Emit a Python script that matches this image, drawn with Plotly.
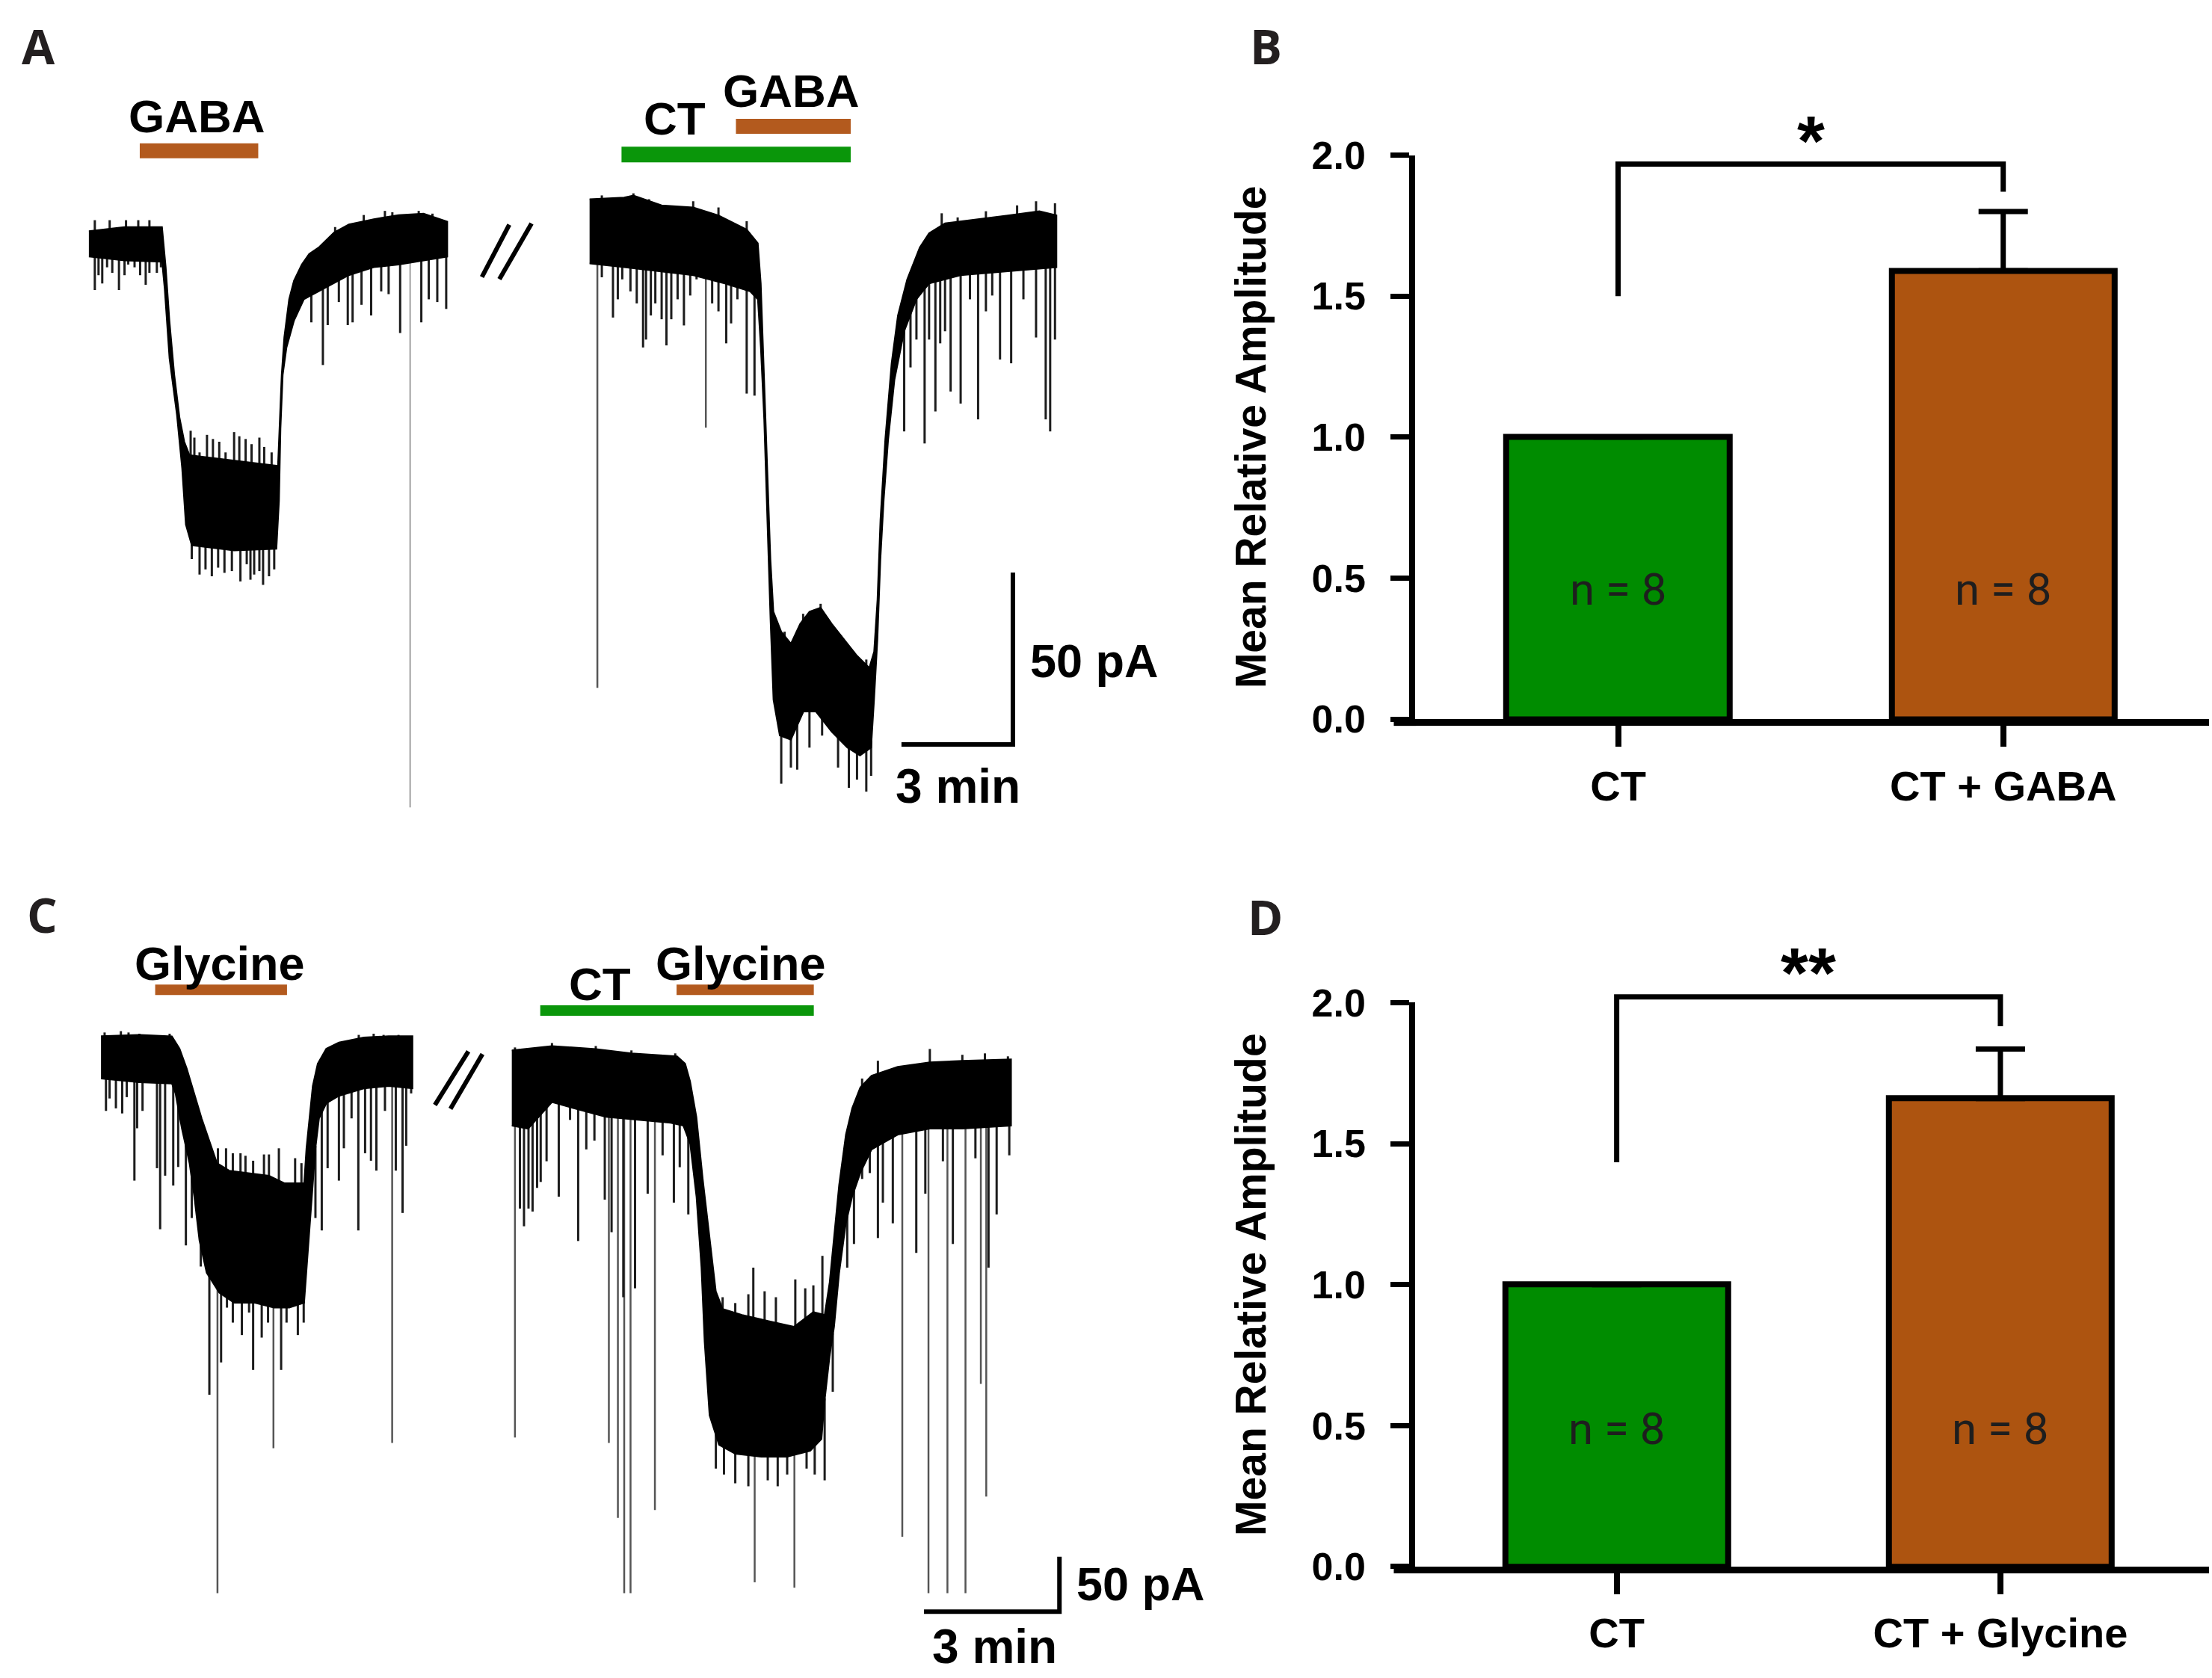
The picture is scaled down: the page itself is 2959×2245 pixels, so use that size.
import numpy as np
import plotly.graph_objects as go

# ======================= DATA =======================
# Panel A : holding current (pA, relative to baseline) vs time (min)
# trace 1 (GABA alone): solid band envelopes
a1_up_t = [0.0, 0.96, 1.97, 2.07, 2.17, 2.30, 2.44, 2.57, 2.71, 3.91, 5.09, 5.19, 5.26, 5.39, 5.52, 5.73, 5.93, 6.20, 6.60, 7.00, 7.67, 8.34, 9.01, 9.65]
a1_up_i = [3.3, 4.5, 4.5, -7.2, -22.8, -38.4, -50.8, -57.9, -61.8, -63.3, -64.9, -38.4, -27.5, -16.5, -11.1, -6.4, -3.3, -1.3, 2.9, 5.3, 6.8, 8.0, 8.4, 6.1]
a1_lo_t = [0.0, 0.96, 1.97, 2.04, 2.17, 2.37, 2.51, 2.61, 2.77, 3.91, 5.05, 5.12, 5.16, 5.22, 5.32, 5.52, 5.79, 6.33, 7.00, 7.67, 8.34, 9.65]
a1_lo_i = [-4.1, -5.2, -5.6, -13.4, -33.7, -50.1, -65.6, -82.0, -88.0, -89.5, -89.0, -75.0, -54.0, -38.4, -30.6, -22.8, -16.5, -13.4, -9.5, -7.2, -6.4, -4.1]
# noise excursions (tips)
a1_hl_t = [0.16, 0.26, 0.36, 0.49, 0.63, 0.81, 0.96, 1.06, 1.23, 1.38, 1.53, 1.63, 1.83, 1.94, 2.77, 2.98, 3.14, 3.31, 3.48, 3.65, 3.85, 4.08,
           4.25, 4.35, 4.45, 4.59, 4.69, 4.85, 4.99, 5.99, 6.30, 6.43, 6.73, 6.97, 7.10, 7.34, 7.60, 7.87, 8.07, 8.38, 8.95, 9.15, 9.38, 9.62]
a1_hl_i = [-13.8, -9.5, -11.9, -7.2, -8.8, -13.8, -9.5, -6.4, -7.2, -9.5, -12.3, -8.8, -8.8, -7.2, -92.0, -96.5, -95.0, -97.0, -94.5, -96.0,
           -95.5, -98.5, -93.5, -98.0, -96.5, -95.5, -99.5, -97.0, -95.0, -23.2, -35.6, -24.0, -17.3, -24.0, -23.2, -18.1, -21.2, -14.2, -15.0,
           -26.3, -23.2, -16.5, -17.3, -19.3]
a1_hu_t = [0.16, 0.56, 1.00, 1.33, 1.63, 2.74, 2.84, 2.98, 3.18, 3.34, 3.51, 3.68, 3.91, 4.05, 4.22, 4.38, 4.59, 4.72, 4.92, 6.63, 7.40, 7.97, 8.17, 8.88, 9.25]
a1_hu_i = [6.5, 6.5, 6.5, 6.5, 6.5, -54.7, -56.7, -61.0, -55.9, -57.1, -57.9, -61.0, -55.1, -56.3, -57.1, -58.6, -56.7, -59.4, -61.0, 4.5, 8.0, 9.2, 8.8, 9.2, 8.4]
a1_sp_t = [8.65]
a1_sp_i = [-164.2]

# trace 2 (CT then CT + GABA)
a2_up_t = [13.48, 14.41, 14.66, 15.42, 16.27, 16.95, 17.71, 18.01, 18.09, 18.18, 18.26, 18.35, 18.43, 18.64, 18.90, 19.15, 19.40, 19.70,
           20.00, 20.34, 20.68, 21.01, 21.14, 21.23, 21.31, 21.44, 21.61, 21.78, 22.03, 22.37, 22.62, 23.05, 23.89, 24.74, 25.59, 26.05]
a2_up_i = [12.6, 13.1, 13.7, 10.8, 10.2, 7.9, 3.8, -0.2, -11.9, -39.8, -63.1, -92.1, -107.3, -113.1, -116.6, -110.8, -107.3, -106.1,
           -110.8, -115.4, -120.1, -123.6, -118.9, -103.8, -80.5, -57.2, -35.1, -21.2, -10.7, -1.4, 2.7, 5.6, 6.7, 7.9, 9.1, 7.9]
a2_lo_t = [13.48, 14.41, 15.42, 16.27, 17.12, 17.80, 18.01, 18.09, 18.18, 18.26, 18.35, 18.43, 18.60, 18.90, 19.24, 19.57, 20.00, 20.42,
           20.76, 21.06, 21.14, 21.23, 21.31, 21.40, 21.52, 21.69, 21.95, 22.28, 22.62, 23.47, 24.74, 26.05]
a2_lo_i = [-6.1, -7.2, -8.4, -9.5, -11.9, -14.2, -16.5, -30.5, -51.4, -80.5, -109.6, -132.9, -143.3, -144.5, -136.3, -136.3, -142.2,
           -146.8, -149.1, -146.8, -132.9, -115.4, -92.1, -74.7, -57.2, -39.8, -25.8, -16.5, -11.9, -9.5, -8.4, -7.2]
a2_hl_t = [13.81, 14.11, 14.24, 14.36, 14.58, 14.75, 14.92, 15.00, 15.13, 15.25, 15.42, 15.55, 15.68, 15.85, 16.02, 16.19, 16.36, 16.78,
           16.95, 17.16, 17.29, 17.46, 17.71, 17.92, 18.64, 18.90, 19.07, 19.40, 19.74, 20.17, 20.46, 20.68, 20.93, 21.06, 21.95, 22.12,
           22.28, 22.50, 22.62, 22.79, 22.92, 23.05, 23.20, 23.47, 23.72, 23.94, 24.15, 24.32, 24.53, 24.83, 25.16, 25.50, 25.76, 25.88, 26.01]
a2_hl_i = [-10.1, -21.8, -16.5, -10.7, -14.2, -17.7, -30.5, -28.2, -21.2, -17.7, -22.3, -29.9, -22.3, -16.5, -24.1, -15.4, -10.7, -17.7,
           -20.0, -29.3, -23.5, -16.5, -43.9, -44.5, -157.3, -152.6, -153.2, -146.8, -143.3, -152.6, -158.5, -156.1, -159.6, -155.0, -54.9,
           -36.3, -28.2, -58.4, -28.2, -49.1, -29.3, -25.8, -43.3, -46.8, -16.5, -51.4, -20.0, -15.4, -34.0, -35.1, -16.5, -27.6, -51.4,
           -54.9, -28.2]
a2_hu_t = [13.81, 14.66, 15.08, 16.27, 16.95, 17.71, 18.73, 19.23, 19.57, 19.70, 20.25, 20.59, 20.93, 22.96, 23.39, 24.15, 24.99, 25.50, 26.01]
a2_hu_i = [13.7, 14.3, 12.6, 12.0, 10.2, 6.2, -113.1, -107.9, -106.7, -105.0, -114.3, -118.9, -121.2, 8.5, 7.3, 9.1, 10.8, 12.0, 11.4]
a2_sp_t = [13.69, 16.61]
a2_sp_i = [-129.4, -53.8]

# drug application periods (min)
a_gaba1 = [1.37, 4.56]
a_ct2 = [14.34, 20.51]
a_gaba2 = [17.42, 20.51]

# Panel C : Glycine
c1_up_t = [0.05, 0.90, 1.62, 1.79, 1.95, 2.12, 2.28, 2.45, 2.62, 2.89, 3.33, 3.77, 4.11, 4.55, 4.60, 4.66, 4.74, 4.85, 5.04, 5.32, 5.87, 6.42, 6.95]
c1_up_i = [13.0, 14.2, 13.0, 1.7, -16.4, -39.0, -61.7, -82.1, -102.4, -109.2, -111.5, -113.8, -120.6, -120.6, -88.9, -66.2, -32.3, -11.9,
           1.7, 7.4, 11.9, 13.0, 13.0]
c1_lo_t = [0.05, 0.90, 1.62, 1.70, 1.84, 2.01, 2.12, 2.23, 2.39, 2.67, 3.00, 3.44, 3.88, 4.22, 4.55, 4.63, 4.68, 4.74, 4.80, 4.88, 5.04,
           5.32, 5.87, 6.42, 6.95]
c1_lo_i = [-25.5, -28.9, -30.0, -39.0, -70.7, -102.4, -134.1, -172.6, -202.1, -220.2, -229.3, -229.3, -233.8, -233.8, -229.3, -190.8,
           -156.8, -122.8, -88.9, -61.7, -48.1, -41.3, -34.5, -32.3, -34.5]
c1_hl_t = [0.16, 0.24, 0.38, 0.52, 0.62, 0.79, 0.85, 0.97, 1.29, 1.36, 1.47, 1.65, 1.76, 1.93, 2.06, 2.26, 2.45, 2.71, 2.84, 2.97, 3.17,
           3.33, 3.42, 3.61, 3.75, 4.04, 4.16, 4.41, 4.54, 4.80, 4.94, 5.07, 5.32, 5.43, 5.60, 5.75, 5.90, 6.03, 6.15, 6.34, 6.58, 6.73, 6.81, 6.92]
c1_hl_i = [-54.9, -43.6, -52.6, -57.2, -42.4, -118.3, -70.7, -54.9, -107.0, -162.5, -113.8, -122.8, -105.9, -177.2, -152.3, -196.4,
           -313.0, -283.6, -233.8, -247.4, -258.7, -238.3, -290.4, -261.0, -247.4, -290.4, -247.4, -258.7, -247.4, -152.3, -163.6, -107.0,
           -118.3, -88.9, -61.7, -163.6, -93.4, -100.2, -109.2, -54.9, -109.2, -147.7, -86.6, -39.0]
c1_hu_t = [0.13, 0.49, 0.66, 0.90, 1.57, 2.64, 2.82, 2.97, 3.14, 3.25, 3.42, 3.66, 3.77, 3.99, 4.35, 4.49, 5.76, 6.09, 6.31, 6.64]
c1_hu_i = [16.4, 17.6, 16.4, 15.3, 15.3, -88.9, -88.9, -93.4, -93.4, -95.7, -100.2, -94.5, -94.5, -88.9, -97.9, -102.4, 14.2, 15.3, 14.2, 14.2]
c1_sp_t = [2.63, 3.87, 6.50]
c1_sp_i = [-493.3, -361.6, -356.8]

c2_up_t = [9.15, 10.04, 11.01, 11.80, 12.81, 12.99, 13.10, 13.24, 13.38, 13.53, 13.67, 13.82, 14.25, 14.82, 15.40, 15.83, 16.08, 16.19,
           16.29, 16.40, 16.55, 16.69, 16.87, 17.12, 17.70, 18.41, 19.13, 20.21]
c2_up_i = [0.1, 4.1, 1.4, -2.6, -5.3, -12.0, -28.1, -60.4, -116.8, -170.5, -218.9, -235.0, -240.4, -245.8, -251.1, -237.7, -240.4,
           -210.8, -170.5, -122.2, -76.5, -52.3, -33.5, -22.8, -14.7, -10.7, -9.3, -8.0]
c2_lo_t = [9.15, 9.51, 10.04, 10.51, 11.23, 11.95, 12.67, 12.95, 13.10, 13.24, 13.35, 13.42, 13.53, 13.74, 14.10, 14.68, 15.25, 15.76,
           16.01, 16.08, 16.19, 16.29, 16.40, 16.55, 16.69, 16.87, 17.12, 17.70, 18.41, 19.13, 20.21]
c2_lo_i = [-68.4, -71.1, -46.9, -52.3, -60.4, -63.1, -65.7, -68.4, -84.6, -132.9, -197.4, -264.6, -331.7, -358.6, -366.7, -369.4, -369.4,
           -364.0, -353.2, -318.3, -278.0, -251.1, -202.8, -157.1, -132.9, -111.4, -89.9, -76.5, -71.1, -71.1, -68.4]
c2_hl_t = [9.33, 9.42, 9.52, 9.61, 9.71, 9.79, 9.92, 10.19, 10.44, 10.62, 10.80, 10.98, 11.21, 11.36, 11.62, 11.88, 12.16, 12.49, 12.74,
           12.87, 13.06, 13.67, 13.85, 14.10, 14.39, 14.82, 15.04, 15.25, 15.68, 15.86, 16.08, 16.26, 16.58, 16.73, 16.91, 17.08, 17.26,
           17.37, 17.59, 18.11, 18.31, 18.70, 18.92, 19.42, 19.71, 19.89, 20.17]
c2_hl_i = [-143.7, -159.8, -143.7, -146.4, -124.9, -119.5, -100.7, -132.9, -63.1, -173.2, -89.9, -81.9, -135.6, -165.2, -224.3, -216.2,
           -130.2, -95.3, -138.3, -106.1, -149.0, -380.1, -385.5, -393.5, -396.2, -390.8, -396.2, -385.5, -380.1, -385.5, -390.8, -310.3,
           -197.4, -175.9, -116.8, -111.4, -170.5, -138.3, -157.1, -184.0, -130.2, -100.7, -175.9, -98.0, -197.4, -149.0, -95.3]
c2_hu_t = [9.22, 10.04, 11.01, 11.80, 12.77, 13.82, 14.10, 14.39, 14.50, 14.75, 15.00, 15.43, 15.65, 15.83, 16.03, 16.91, 17.26, 18.41,
           19.13, 19.63, 20.14]
c2_hu_i = [2.8, 6.8, 4.1, 0.1, -2.6, -224.3, -229.6, -221.6, -197.4, -218.9, -224.3, -208.1, -216.2, -213.5, -186.7, -25.5, -9.3, 1.4,
           -3.9, -2.6, -5.3]
c2_sp_t = [9.22, 11.30, 11.50, 11.64, 11.78, 12.32, 14.53, 15.41, 17.80, 18.38, 18.80, 19.20, 19.54, 19.66]
c2_sp_i = [-351.9, -356.8, -425.0, -493.3, -493.3, -417.7, -483.5, -488.4, -442.1, -493.3, -493.3, -493.3, -303.1, -405.5]

c_gly1 = [1.25, 4.17]
c_ct2 = [9.78, 15.84]
c_gly2 = [12.80, 15.84]

# scale bars
sb_time = 3      # min
sb_curr = 50     # pA

# Panels B and D : mean relative amplitude
grp_B = ["CT", "CT + GABA"]
mean_B = [1.0, 1.59]
sem_B = [0.0, 0.21]
n_B = [8, 8]
brk_B = [1.50, 1.968, 1.87]   # left foot, top, right foot
sig_B = "*"

grp_D = ["CT", "CT + Glycine"]
mean_D = [1.0, 1.66]
sem_D = [0.0, 0.175]
n_D = [8, 8]
brk_D = [1.434, 2.02, 1.916]
sig_D = "**"

y_ticks = [0.0, 0.5, 1.0, 1.5, 2.0]

# ======================= LAYOUT HELPERS =======================
W, H = 2959, 2245
RW, RH = 1568.0, 1190.0


def PX(d):
    return d / RW


def PY(d):
    return 1.0 - d / RH


def LW(d):
    return d * W / RW


FONT = "Liberation Sans, Arial, Helvetica, sans-serif"
LETTER = "Open Sans, Liberation Sans, sans-serif"
NFONT = "Roboto, Liberation Sans, sans-serif"
GREEN = "#008C00"
BROWN = "#AD5410"
APP_GREEN = "#0A960A"
APP_BROWN = "#B35A1E"
INK = "#231F20"

A_T0, A_XS, A_I0, A_YS = 63.0, 26.33, 172.0, 2.44
C_T0, C_XS, C_I0, C_YS = 70.0, 32.0, 745.0, 0.78
A_DOM = (0.0, 860.0, 0.0, 590.0)
C_DOM = (0.0, 860.0, 600.0, 1190.0)


def tA(d):
    return (d - A_T0) / A_XS


def iA(d):
    return (A_I0 - d) / A_YS


def tC(d):
    return (d - C_T0) / C_XS


def iC(d):
    return (C_I0 - d) / C_YS


fig = go.Figure()


def add_band(ut, ui, lt, li, xa, ya):
    x = list(ut) + list(lt)[::-1]
    y = list(ui) + list(li)[::-1]
    fig.add_trace(go.Scatter(x=x, y=y, mode="lines", fill="toself", fillcolor="black",
                             line=dict(color="black", width=2), xaxis=xa, yaxis=ya,
                             hoverinfo="skip", showlegend=False))


def add_sticks(st, si, et, ei, xa, ya, color, width, up=False):
    xs, ys = [], []
    for t, v in zip(st, si):
        base = float(np.interp(t, et, ei))
        base = base - 2 if up else base + 2
        xs += [t, t, None]
        ys += [base, v, None]
    fig.add_trace(go.Scatter(x=xs, y=ys, mode="lines", line=dict(color=color, width=width),
                             xaxis=xa, yaxis=ya, hoverinfo="skip", showlegend=False))


def add_hline(t0, t1, lvl, color, width, xa, ya):
    fig.add_trace(go.Scatter(x=[t0, t1], y=[lvl, lvl], mode="lines", line=dict(color=color, width=width),
                             xaxis=xa, yaxis=ya, hoverinfo="skip", showlegend=False))


HAIR = "#1c1c1c"
LONG = "#555555"

# ---------- Panel A ----------
add_sticks(a1_sp_t, a1_sp_i, a1_lo_t, a1_lo_i, "x", "y", "#B4B4B4", 2.5)
add_sticks(a2_sp_t, a2_sp_i, a2_lo_t, a2_lo_i, "x", "y", LONG, 2.5)
for ut, ui, lt, li, hlt, hli, hut, hui in [
        (a1_up_t, a1_up_i, a1_lo_t, a1_lo_i, a1_hl_t, a1_hl_i, a1_hu_t, a1_hu_i),
        (a2_up_t, a2_up_i, a2_lo_t, a2_lo_i, a2_hl_t, a2_hl_i, a2_hu_t, a2_hu_i)]:
    add_sticks(hlt, hli, lt, li, "x", "y", HAIR, 3)
    add_sticks(hut, hui, ut, ui, "x", "y", HAIR, 3, up=True)
    add_band(ut, ui, lt, li, "x", "y")
add_hline(a_gaba1[0], a_gaba1[1], iA(107), APP_BROWN, 20, "x", "y")
add_hline(a_ct2[0], a_ct2[1], iA(109.6), APP_GREEN, 21, "x", "y")
add_hline(a_gaba2[0], a_gaba2[1], iA(89.6), APP_BROWN, 20, "x", "y")
sbx, sby = tA(718), iA(528)
fig.add_trace(go.Scatter(x=[sbx - sb_time, sbx, sbx], y=[sby, sby, sby + sb_curr], mode="lines",
                         line=dict(color="black", width=6), xaxis="x", yaxis="y",
                         hoverinfo="skip", showlegend=False))

# ---------- Panel C ----------
add_sticks(c1_sp_t, c1_sp_i, c1_lo_t, c1_lo_i, "x4", "y4", LONG, 2.5)
add_sticks(c2_sp_t, c2_sp_i, c2_lo_t, c2_lo_i, "x4", "y4", LONG, 2.5)
for ut, ui, lt, li, hlt, hli, hut, hui in [
        (c1_up_t, c1_up_i, c1_lo_t, c1_lo_i, c1_hl_t, c1_hl_i, c1_hu_t, c1_hu_i),
        (c2_up_t, c2_up_i, c2_lo_t, c2_lo_i, c2_hl_t, c2_hl_i, c2_hu_t, c2_hu_i)]:
    add_sticks(hlt, hli, lt, li, "x4", "y4", HAIR, 3)
    add_sticks(hut, hui, ut, ui, "x4", "y4", HAIR, 3, up=True)
    add_band(ut, ui, lt, li, "x4", "y4")
add_hline(c_gly1[0], c_gly1[1], iC(702), APP_BROWN, 14, "x4", "y4")
add_hline(c_ct2[0], c_ct2[1], iC(716.7), APP_GREEN, 14, "x4", "y4")
add_hline(c_gly2[0], c_gly2[1], iC(702), APP_BROWN, 14, "x4", "y4")
sbx, sby = tC(751), iC(1143)
fig.add_trace(go.Scatter(x=[sbx - sb_time, sbx, sbx], y=[sby, sby, sby + sb_curr], mode="lines",
                         line=dict(color="black", width=6), xaxis="x4", yaxis="y4",
                         hoverinfo="skip", showlegend=False))


# ---------- Bar panels ----------
def add_bars(grp, mean, sem, brk, xa, ya, xo, yo):
    fig.add_trace(go.Bar(x=list(range(len(grp))), y=mean, width=0.58,
                         marker=dict(color=[GREEN, BROWN], line=dict(color="black", width=8)),
                         error_y=dict(type="data", array=sem, arrayminus=[0] * len(sem), symmetric=False,
                                      color="black", thickness=7, width=33),
                         xaxis=xa, yaxis=ya, hoverinfo="skip", showlegend=False))
    fig.add_trace(go.Scatter(x=[0, 0, 1, 1], y=[brk[0], brk[1], brk[1], brk[2]], mode="lines",
                             line=dict(color="black", width=7), xaxis=xo, yaxis=yo,
                             hoverinfo="skip", showlegend=False))


add_bars(grp_B, mean_B, sem_B, brk_B, "x2", "y2", "x3", "y3")
add_bars(grp_D, mean_D, sem_D, brk_D, "x5", "y5", "x6", "y6")


# ======================= AXES =======================
def trace_axes(dom, t0, xs, i0, ys, yname, xname):
    x0, x1, y0, y1 = dom
    xa = dict(domain=[PX(x0), PX(x1)], range=[(x0 - t0) / xs, (x1 - t0) / xs], visible=False, anchor=yname)
    ya = dict(domain=[PY(y1), PY(y0)], range=[(i0 - y1) / ys, (i0 - y0) / ys], visible=False, anchor=xname)
    return xa, ya


xa1, ya1 = trace_axes(A_DOM, A_T0, A_XS, A_I0, A_YS, "y", "x")
xa4, ya4 = trace_axes(C_DOM, C_T0, C_XS, C_I0, C_YS, "y4", "x4")

tickfont = dict(family=FONT, size=52, color="black", weight="bold")
catfont = dict(family=FONT, size=56, color="black", weight="bold")


def bar_axes(grp, x_left, x_right, c0, c1, y0d, y2d, ytopd, xn, yn, xon, yon):
    sp = c1 - c0
    xr = [(x_left - c0) / sp, (x_right - c0) / sp]
    ppu = (y0d - y2d) / 2.0
    xa = dict(domain=[PX(x_left), PX(x_right)], range=xr, anchor=yn,
              tickvals=list(range(len(grp))), ticktext=grp, ticks="outside", ticklen=LW(15), tickwidth=8,
              tickcolor="black", showline=True, linewidth=9, linecolor="black", showgrid=False,
              zeroline=False, tickfont=catfont, ticklabelstandoff=4, automargin=False)
    ya = dict(domain=[PY(y0d), PY(y2d)], range=[0, 2.0], anchor=xn,
              tickvals=y_ticks, ticktext=[f"{v:.1f}" for v in y_ticks], ticks="outside", ticklen=LW(13),
              tickwidth=7, tickcolor="black", showline=True, linewidth=8, linecolor="black",
              showgrid=False, zeroline=False, tickfont=tickfont, ticklabelstandoff=23, automargin=False,
              title=dict(text="Mean Relative Amplitude",
                         font=dict(family=FONT, size=57, color="black", weight="bold"), standoff=46))
    xo = dict(domain=[PX(x_left), PX(x_right)], range=xr, visible=False, anchor=yon)
    yo = dict(domain=[PY(y0d), PY(ytopd)], range=[0, (y0d - ytopd) / ppu], visible=False, anchor=xon)
    return xa, ya, xo, yo


xa2, ya2, xa3, ya3 = bar_axes(grp_B, 1003, 1566, 1147, 1420, 510, 110, 40, "x2", "y2", "x3", "y3")
xa5, ya5, xa6, ya6 = bar_axes(grp_D, 1003, 1566, 1146, 1418, 1111, 711, 640, "x5", "y5", "x6", "y6")

# ======================= ANNOTATIONS =======================
ann = []


def txt(text, dx, dy, size, family=FONT, weight="bold", color="black"):
    ann.append(dict(text=text, x=PX(dx), y=PY(dy), xref="paper", yref="paper", showarrow=False,
                    xanchor="center", yanchor="middle",
                    font=dict(family=family, size=size, color=color, weight=weight)))


for lab, dx, dy in [("A", 27.5, 32.5), ("B", 897.5, 32.5), ("C", 30, 648.5), ("D", 897, 650)]:
    txt(lab, dx, dy, 64, family=LETTER, color=INK)

txt("GABA", 139.5, 82.5, 62)
txt("CT", 478, 84, 62)
txt("GABA", 561, 64.5, 62)
txt("50 pA", 776, 468.5, 63)
txt("3 min", 679, 557.5, 64)
txt("Glycine", 156, 683, 63)
txt("CT", 425, 698, 62)
txt("Glycine", 525, 683, 63)
txt("50 pA", 808.5, 1123, 63)
txt("3 min", 705, 1167.5, 64)

for ns, xa, ya, yv in [(n_B, "x2", "y2", 0.46), (n_D, "x5", "y5", 0.49)]:
    for i, n in enumerate(ns):
        ann.append(dict(text=f"n = {n}", x=i, y=yv, xref=xa, yref=ya, showarrow=False,
                        xanchor="center", yanchor="middle",
                        font=dict(family=NFONT, size=60, color="#1e1e1e")))

for sig, xa, ya, yv in [(sig_B, "x3", "y3", 2.09), (sig_D, "x6", "y6", 2.145)]:
    ann.append(dict(text=sig, x=0.5, y=yv, xref=xa, yref=ya, showarrow=False, xanchor="center",
                    yanchor="middle", yshift=-14,
                    font=dict(family=FONT, size=95, color="black", weight="bold")))

# ======================= SHAPES =======================
shapes = []


def seg(x0, y0, x1, y1, w):
    shapes.append(dict(type="line", xref="paper", yref="paper", x0=PX(x0), y0=PY(y0), x1=PX(x1), y1=PY(y1),
                       line=dict(color="black", width=w)))


seg(341.6, 196.4, 361.0, 159.3, 6)
seg(354.0, 198.0, 376.8, 158.5, 6)
seg(308.3, 783.6, 332.0, 745.6, 6)
seg(319.3, 786.3, 342.0, 747.5, 6)
for yd in (510, 1111):
    shapes.append(dict(type="line", xref="paper", yref="paper", x0=PX(988), x1=PX(1004),
                       y0=PY(yd) - 4.5 / H, y1=PY(yd) - 4.5 / H, line=dict(color="black", width=9)))

fig.update_layout(
    width=W, height=H, margin=dict(l=0, r=0, t=0, b=0),
    paper_bgcolor="white", plot_bgcolor="rgba(0,0,0,0)",
    xaxis=xa1, yaxis=ya1, xaxis2=xa2, yaxis2=ya2, xaxis3=xa3, yaxis3=ya3,
    xaxis4=xa4, yaxis4=ya4, xaxis5=xa5, yaxis5=ya5, xaxis6=xa6, yaxis6=ya6,
    annotations=ann, shapes=shapes, showlegend=False, bargap=0,
    font=dict(family=FONT),
)

fig.write_html("out.html", config={"displayModeBar": False},
               post_script="document.body.style.margin='0px';document.body.style.padding='0px';")
